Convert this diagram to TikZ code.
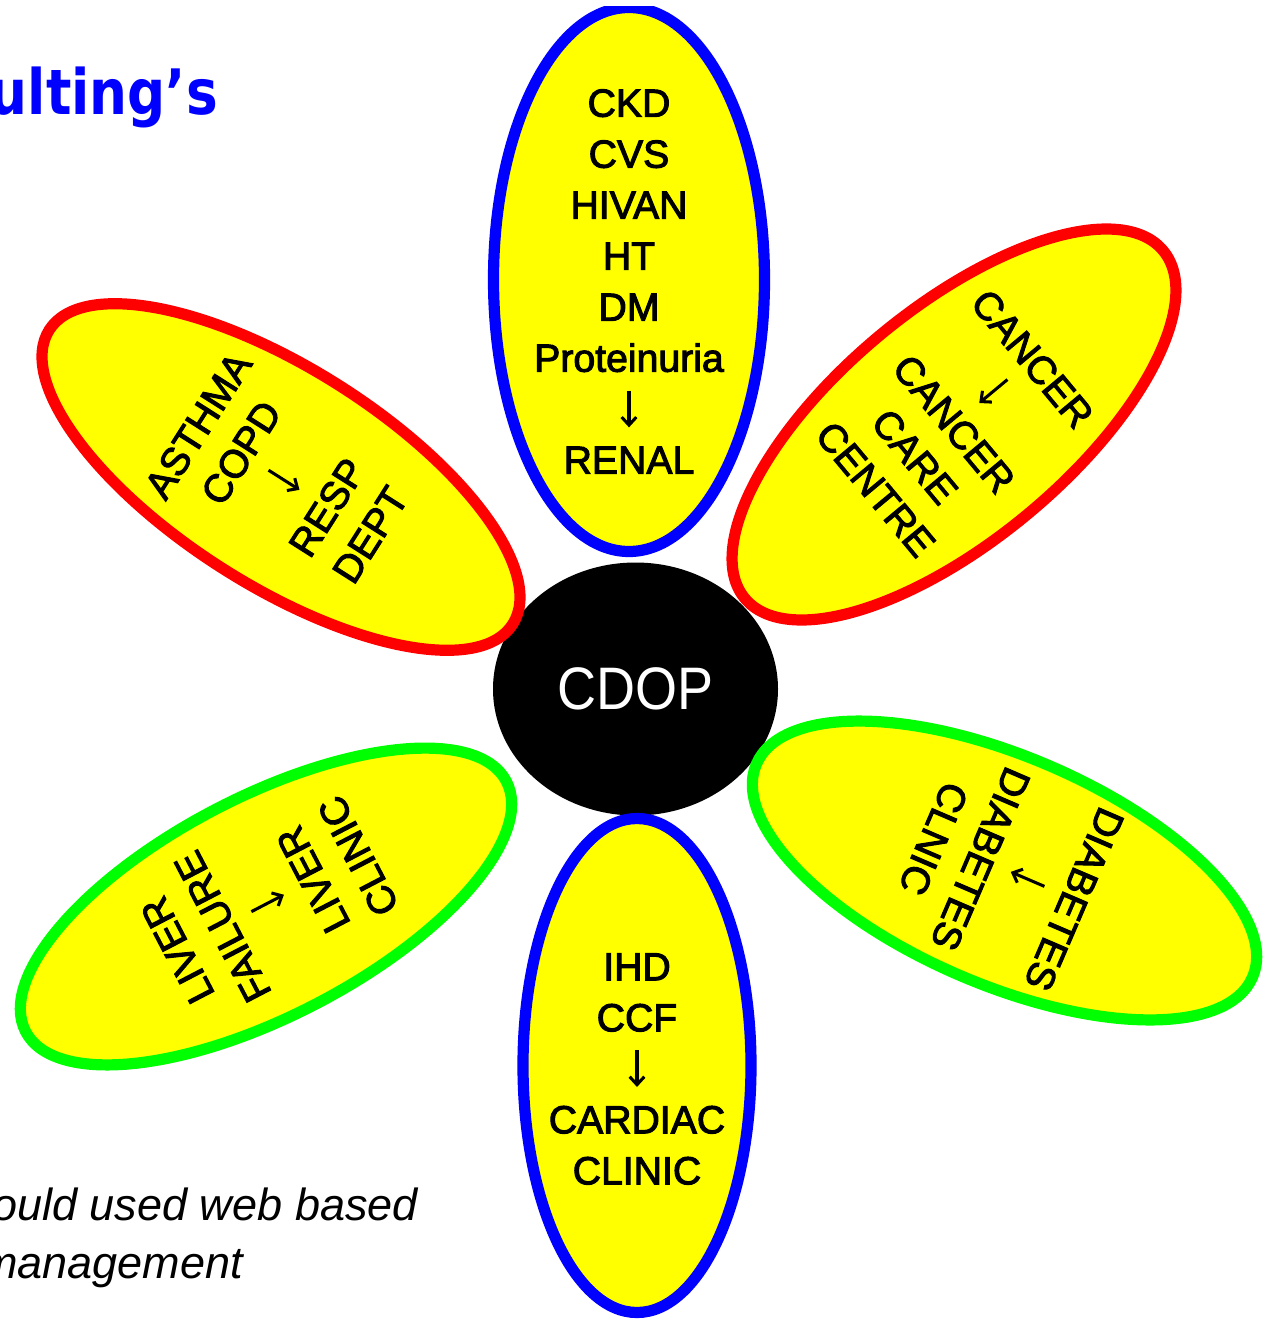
\documentclass[tikz,border=0pt]{standalone}
\usepackage{fontspec}
\setmainfont{Liberation Sans}
\newfontfamily\titlefont{DejaVu Sans}
\newfontfamily\petalfont{Liberation Sans}[FakeBold=2.6]
\usetikzlibrary{shapes.geometric,arrows.meta}
\definecolor{pyellow}{RGB}{255,255,0}
\definecolor{pblue}{RGB}{0,0,255}
\definecolor{pred}{RGB}{255,0,0}
\definecolor{pgreen}{RGB}{0,255,0}
\newcommand\petalarrow{\tikz[baseline=0pt]{\draw[line width=2.3pt, -{Straight Barb[length=6pt,width=11pt,line width=2.3pt]}] (0pt,24pt) -- (0pt,-3.5pt);}}
\begin{document}
\begin{tikzpicture}[x=0.75pt,y=-0.75pt,
  petal/.style={ellipse, fill=pyellow, line width=8.4pt, inner sep=0pt},
  ptext/.style={align=center, font=\petalfont\fontsize{29.4pt}{38.25pt}\selectfont, inner sep=0pt},
  notetext/.style={anchor=base east, inner sep=0pt, font=\itshape\fontsize{33.75pt}{40pt}\selectfont}]
\clip (0,0) rectangle (1266,1321);
\fill[white] (0,0) rectangle (1266,1321);
\begin{scope}
\clip (0,6) rectangle (1266,1321);
% centre
\node[ellipse, fill=black, minimum width=213.75pt, minimum height=189.75pt, inner sep=0pt,
      text=white, font=\fontsize{45pt}{54pt}\selectfont] (core) at (635.5,689) {\scalebox{0.9}[1]{CDOP}};
% petals
\node[petal, draw=pblue, minimum width=203.25pt, minimum height=408pt] (pTop) at (629,279.5) {};
\node[petal, draw=pblue, minimum width=171pt, minimum height=370.5pt] (pBot) at (637,1065.5) {};
\node[petal, draw=pred, minimum width=411.75pt, minimum height=162.75pt, rotate=-32.4] (pUL) at (281,477) {};
\node[petal, draw=pred, minimum width=408pt, minimum height=174pt, rotate=39.75] (pUR) at (954,424.5) {};
\node[petal, draw=pgreen, minimum width=406.5pt, minimum height=164.25pt, rotate=27.5] (pLL) at (266,906.5) {};
\node[petal, draw=pgreen, minimum width=405pt, minimum height=171pt, rotate=-23.25] (pLR) at (1004.5,870.5) {};
% petal texts
\node[ptext] (tTop) at (629,281.5) {CKD\\CVS\\HIVAN\\HT\\DM\\Proteinuria\\\petalarrow\\RENAL};
\node[ptext] (tBot) at (637,1069) {IHD\\CCF\\\petalarrow\\CARDIAC\\CLINIC};
\node[ptext, rotate=57.6] (tUL) at (284,480) {ASTHMA\\COPD\\\petalarrow\\RESP\\DEPT};
\node[ptext, rotate=-50.25] (tUR) at (954,424) {CANCER\\\petalarrow\\CANCER\\CARE\\CENTRE};
\node[ptext, rotate=117.5] (tLL) at (268,903) {LIVER\\FAILURE\\\petalarrow\\LIVER\\CLINIC};
\node[ptext, rotate=-113.25] (tLR) at (1004,869) {DIABETES\\\petalarrow\\DIABETES\\CLNIC};
\end{scope}
% side texts
\node[anchor=base east, inner sep=0pt, text=pblue, font=\titlefont\bfseries\fontsize{47pt}{56pt}\selectfont] (title) at (218,114) {\scalebox{0.85}[1]{ulting’s}};
\node[notetext] (note1) at (418,1220) {ould used web based};
\node[notetext] (note2) at (243,1278) {management};
\end{tikzpicture}
\end{document}
